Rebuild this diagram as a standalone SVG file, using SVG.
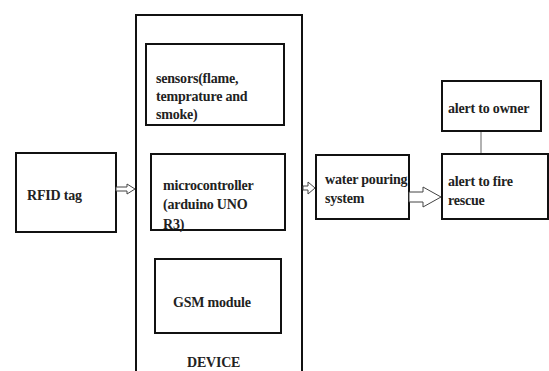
<svg xmlns="http://www.w3.org/2000/svg" width="549" height="371" viewBox="0 0 549 371">
<style>
.box{fill:#fff;stroke:#111;stroke-width:2}
text{font-family:'Liberation Serif','DejaVu Serif',serif;font-weight:bold;font-size:14px;letter-spacing:-0.2px;fill:#222}
.arr{fill:#fff;stroke:#444;stroke-width:1;stroke-linejoin:miter}
.ln{stroke:#999;stroke-width:1.5;fill:none}
</style>
<rect width="549" height="371" fill="#fff"/>
<g id="device">
<path class="box" d="M136,380 V15 H302 V380" fill="none"/>
<text x="187" y="367" font-size="13">DEVICE</text>
</g>
<g id="sensors">
<rect class="box" x="146" y="44" width="138" height="81"/>
<text x="156" y="83">sensors(flame,</text>
<text x="156" y="101">temprature and</text>
<text x="156" y="119">smoke)</text>
</g>
<g id="microcontroller">
<rect class="box" x="151" y="154" width="134" height="76"/>
<text x="163" y="190">microcontroller</text>
<text x="163" y="209">(arduino UNO</text>
<text x="163" y="229">R3)</text>
</g>
<g id="gsm">
<rect class="box" x="155" y="259" width="126" height="74"/>
<text x="173" y="307">GSM module</text>
</g>
<g id="rfid">
<rect class="box" x="16" y="153" width="100" height="79"/>
<text x="27" y="200">RFID tag</text>
</g>
<g id="water">
<rect class="box" x="316" y="155" width="93" height="64"/>
<text x="325" y="184">water pouring</text>
<text x="325" y="203">system</text>
</g>
<g id="fire">
<rect class="box" x="442" y="154" width="106" height="65"/>
<text x="448" y="186">alert to fire</text>
<text x="448" y="205">rescue</text>
</g>
<g id="owner">
<rect class="box" x="442" y="81" width="99" height="50"/>
<text x="448" y="113">alert to owner</text>
</g>
<g id="connectors">
<path class="arr" d="M116,187 H127 V184 L135,189 L127,194 V191 H116 Z"/>
<path class="arr" d="M303,186 H308 V182 L315,188 L308,194 V190 H303 Z"/>
<path class="arr" d="M409,192 H423 V187 L441,197 L423,207 V202 H409 Z"/>
<line class="ln" x1="481" y1="132" x2="481" y2="153"/>
</g>
</svg>
